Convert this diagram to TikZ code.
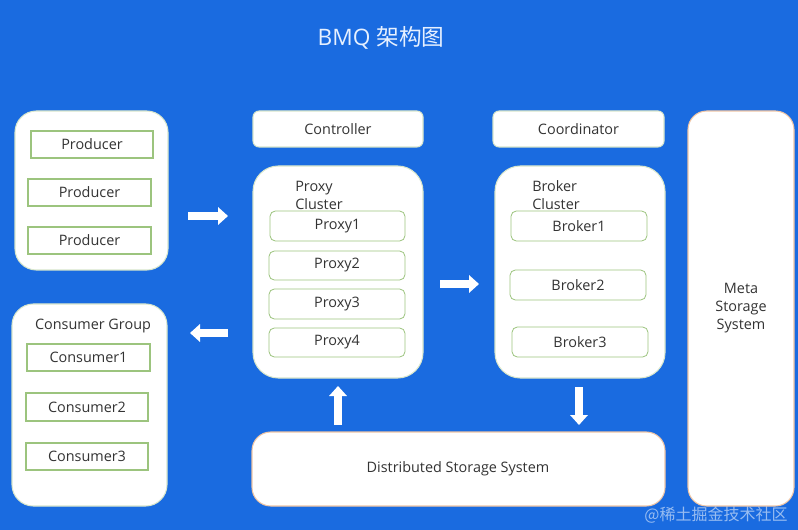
\documentclass[tikz,border=0pt]{standalone}
\usepackage{fontspec}
\setmainfont{Open Sans}
\newfontfamily\cjk{Noto Sans CJK SC}
\usetikzlibrary{arrows.meta,fit}
\definecolor{bg}{HTML}{1A6BE0}
\definecolor{grpline}{HTML}{D8E6CC}
\definecolor{itemline}{HTML}{9CC47E}
\definecolor{orline}{HTML}{EFC5A5}
\definecolor{txt}{HTML}{333333}
\definecolor{titlec}{HTML}{E6F0FF}
\tikzset{
  group/.style={draw=grpline, line width=0.8pt, fill=white, rounded corners=16pt, inner sep=0pt},
  orgroup/.style={draw=orline, line width=0.8pt, fill=white, rounded corners=14pt, inner sep=0pt},
  topbox/.style={draw=grpline, line width=0.8pt, fill=white, rounded corners=4.5pt, inner sep=0pt},
  sqitem/.style={draw=itemline, line width=0.8pt, fill=white, inner sep=0pt},
  rditem/.style={draw=itemline, line width=0.6pt, fill=white, rounded corners=4pt, inner sep=0pt},
  txtlbl/.style={text=txt, font=\fontsize{10.8}{13.5}\selectfont, inner sep=0pt, align=center},
  lbl/.style={text=txt, font=\fontsize{10.8}{13.5}\selectfont, inner sep=0pt, align=left},
  blockarrow/.style={draw=white, line width=6pt, -{Triangle[length=7.5pt,width=13pt]}},
}
\begin{document}
\begin{tikzpicture}[x=0.75pt,y=-0.75pt]
\fill[bg] (0,0) rectangle (798,530);
\useasboundingbox (0,0) rectangle (798,530);

\node[text=titlec, font=\fontsize{17}{20}\selectfont, inner sep=0pt] (title) at (381,38) {BMQ \cjk 架构图};

% Producers
\node[group, fit={(15,111)(168,270)}] (prodgrp) {};
\node[sqitem, fit={(31,131)(153,158)}] (p1) {};
\node[txtlbl] at (p1.center) {Producer};
\node[sqitem, fit={(28,179)(151,206)}] (p2) {};
\node[txtlbl] at (p2.center) {Producer};
\node[sqitem, fit={(28,227)(151,254)}] (p3) {};
\node[txtlbl] at (p3.center) {Producer};

% Consumers
\node[group, fit={(12,304)(167,506)}] (congrp) {};
\node[txtlbl] (conlbl) at (93,326) {Consumer Group};
\node[sqitem, fit={(27,344)(150,371)}] (c1) {};
\node[txtlbl] at (c1.center) {Consumer1};
\node[sqitem, fit={(26,393)(148,421)}] (c2) {};
\node[txtlbl] at (c2.center) {Consumer2};
\node[sqitem, fit={(26,443)(148,470)}] (c3) {};
\node[txtlbl] at (c3.center) {Consumer3};

% Controller / Proxy
\node[topbox, fit={(253,111)(423,147)}] (ctrl) {};
\node[txtlbl] at (ctrl.center) {Controller};
\node[group, rounded corners=19pt, fit={(253,166)(423,378)}] (proxygrp) {};
\node[lbl, anchor=west] (proxylbl) at (295,195) {Proxy\\Cluster};
\node[rditem, fit={(270,211)(405,241)}] (px1) {};
\node[txtlbl] at (px1.center) {Proxy1};
\node[rditem, fit={(269,251)(405,280)}] (px2) {};
\node[txtlbl] at (px2.center) {Proxy2};
\node[rditem, fit={(269,289)(405,319)}] (px3) {};
\node[txtlbl] at (px3.center) {Proxy3};
\node[rditem, fit={(269,328)(405,357)}] (px4) {};
\node[txtlbl] at (px4.center) {Proxy4};

% Coordinator / Broker
\node[topbox, fit={(493,111)(664,147)}] (coord) {};
\node[txtlbl] at (coord.center) {Coordinator};
\node[group, rounded corners=19pt, fit={(495,166)(665,378)}] (brokergrp) {};
\node[lbl, anchor=west] (brokerlbl) at (532,195) {Broker\\Cluster};
\node[rditem, fit={(511,211)(647,241)}] (b1) {};
\node[txtlbl] at (b1.center) {Broker1};
\node[rditem, fit={(510,270)(646,300)}] (b2) {};
\node[txtlbl] at (b2.center) {Broker2};
\node[rditem, fit={(512,327)(648,357)}] (b3) {};
\node[txtlbl] at (b3.center) {Broker3};

% Meta / Distributed storage
\node[orgroup, fit={(688,111)(794,506)}] (meta) {};
\node[txtlbl] at (741,308) {Meta\\Storage\\System};
\node[orgroup, fit={(252,432)(665,506)}] (dss) {};
\node[txtlbl] at (458,469) {Distributed Storage System};

% Arrows
\coordinate (a1s) at (188,216); \coordinate (a1e) at (228,216);
\draw[blockarrow] (a1s) -- (a1e);
\coordinate (a2s) at (228,333); \coordinate (a2e) at (190,333);
\draw[blockarrow] (a2s) -- (a2e);
\coordinate (a3s) at (440,284); \coordinate (a3e) at (479,284);
\draw[blockarrow] (a3s) -- (a3e);
\coordinate (a4s) at (338,425); \coordinate (a4e) at (338,386);
\draw[blockarrow] (a4s) -- (a4e);
\coordinate (a5s) at (579,387); \coordinate (a5e) at (579,425);
\draw[blockarrow] (a5s) -- (a5e);

% watermark
\node[text=white, opacity=0.55, font=\cjk\fontsize{12}{14}\selectfont, inner sep=0pt] (wm) at (716,515) {@稀土掘金技术社区};
\end{tikzpicture}
\end{document}
